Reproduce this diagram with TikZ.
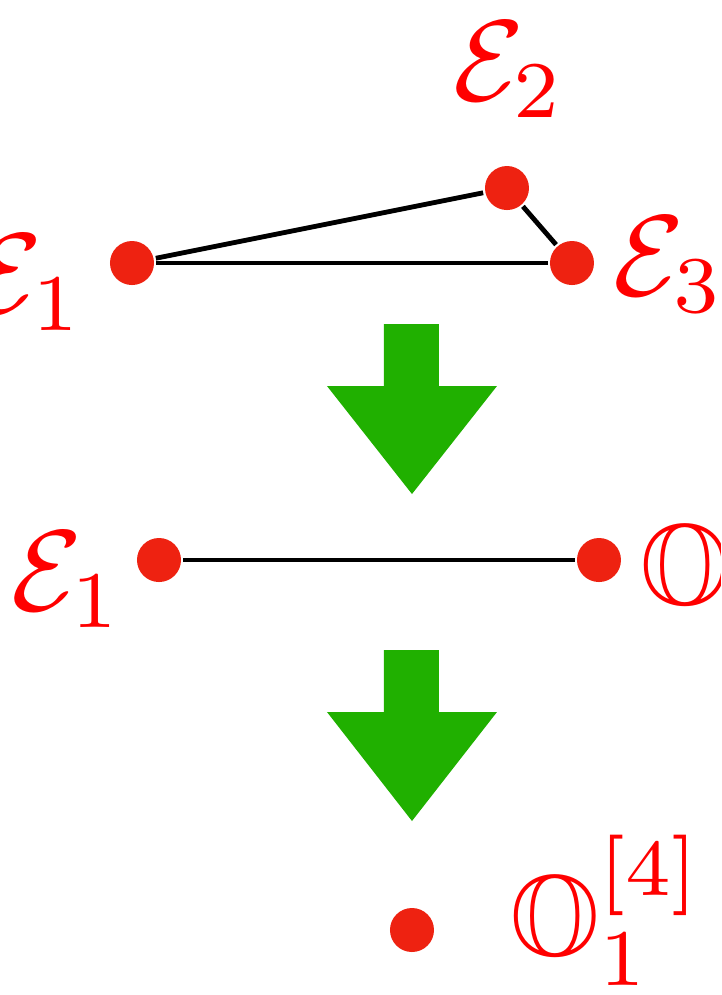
\documentclass[tikz,border=0pt]{standalone}
\usepackage{amssymb}
\definecolor{dotred}{RGB}{238,34,17}
\definecolor{arrowgreen}{RGB}{32,176,0}
\begin{document}
\begin{tikzpicture}[x=0.087pt,y=-0.087pt,
  vertex/.style={circle,fill=dotred,inner sep=0pt,minimum size=3.83pt},
  lbl/.style={text=red,inner sep=0pt},
  link/.style={line width=0.42pt,black},
  bigarrow/.style={fill=arrowgreen,draw=none}]
\useasboundingbox (0,0) rectangle (721,995);
\clip (0,0) rectangle (721,995);
% top triangle
\node[vertex] (a1) at (132,263) {};
\node[vertex] (a2) at (507,188) {};
\node[vertex] (a3) at (572,263) {};
\draw[link] (a1) -- (a2);
\draw[link] (a2) -- (a3);
\draw[link] (a1) -- (a3);
\node[lbl,anchor=base east] (la1) at (86,313) {$\mathcal{E}_1$};
\node[lbl,anchor=base west] (la2) at (451,100) {$\mathcal{E}_2$};
\node[lbl,anchor=base west] (la3) at (611,295) {$\mathcal{E}_3$};
% first arrow
\fill[bigarrow] (384,324) -- (439,324) -- (439,386) -- (497,386) -- (412,494) -- (327,386) -- (384,386) -- cycle;
% middle segment
\node[vertex] (b1) at (159,560) {};
\node[vertex] (b2) at (599,560) {};
\draw[link] (b1) -- (b2);
\node[lbl,anchor=base west] (lb1) at (9,610) {$\mathcal{E}_1$};
\node[lbl,anchor=base west] (lb2) at (638,604) {$\mathbb{O}$};
% second arrow
\fill[bigarrow] (384,650) -- (439,650) -- (439,712) -- (497,712) -- (412,821) -- (327,712) -- (384,712) -- cycle;
% bottom point
\node[vertex] (c1) at (412,930) {};
\node[lbl,anchor=base west] (lc1) at (508,955) {$\mathbb{O}_1^{[4]}$};
\end{tikzpicture}
\end{document}
